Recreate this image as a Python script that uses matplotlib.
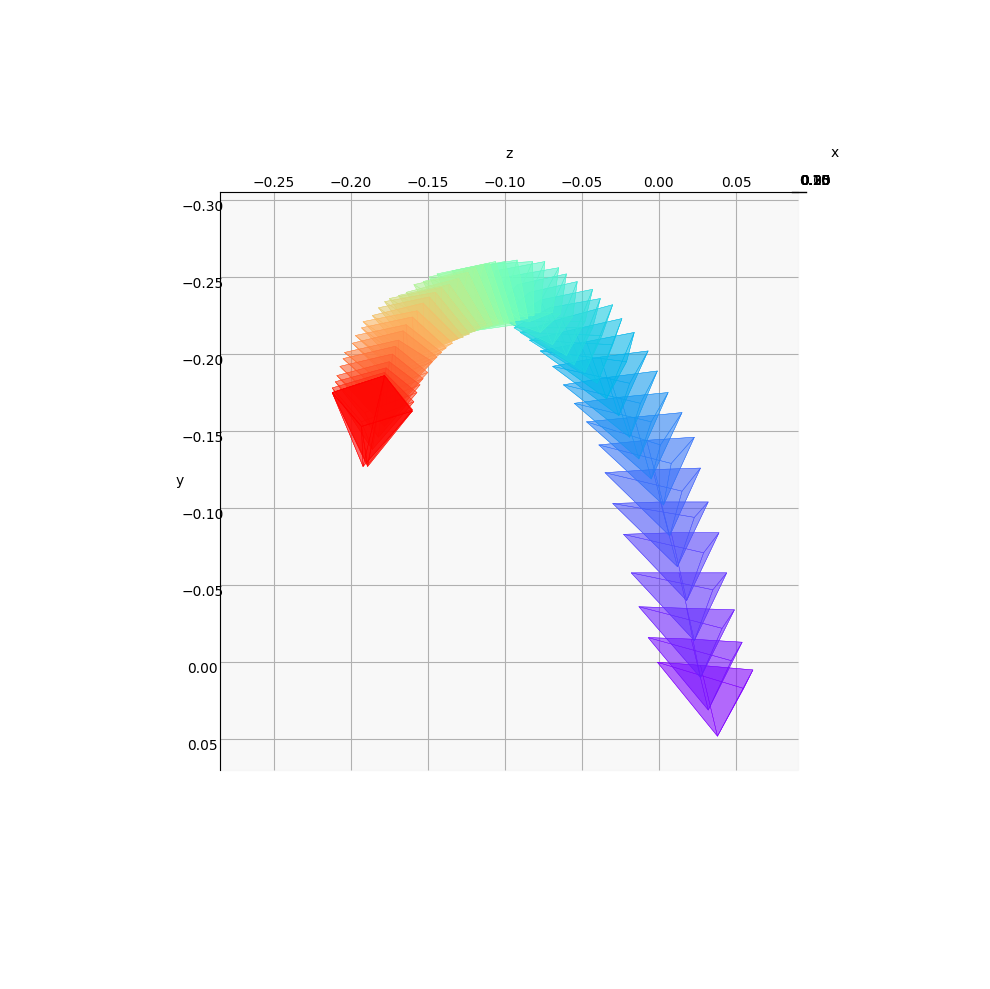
import numpy as np
import matplotlib
matplotlib.use('Agg')
import matplotlib.pyplot as plt
from matplotlib.lines import Line2D
from mpl_toolkits.mplot3d.art3d import Poly3DCollection

# camera frustums, one value per camera (z and y of apex and the 4 base corners)
apex_z = [.038,.032,.027,.023,.018,.012,.007,.003,-.005,-.013,-.019,-.026,-.034,-.040,-.048,-.055,-.060,-.069,-.077,-.084,-.089,-.095,-.100,-.105,-.110,-.116,-.121,-.125,-.130,-.134,-.138,-.141,-.145,-.149,-.152,-.155,-.158,-.162,-.165,-.168,-.171,-.175,-.178,-.182,-.186,-.189,-.189,-.192]
apex_y = [.048,.031,.010,-.014,-.040,-.062,-.082,-.102,-.119,-.132,-.146,-.160,-.171,-.181,-.188,-.193,-.199,-.206,-.214,-.221,-.226,-.230,-.233,-.234,-.235,-.234,-.233,-.231,-.228,-.225,-.222,-.217,-.212,-.207,-.201,-.195,-.190,-.184,-.178,-.172,-.166,-.160,-.153,-.146,-.138,-.128,-.127,-.127]
a_z = [-.001,-.007,-.013,-.018,-.023,-.030,-.035,-.039,-.047,-.055,-.062,-.069,-.077,-.084,-.090,-.094,-.098,-.103,-.108,-.113,-.114,-.116,-.117,-.119,-.121,-.127,-.130,-.134,-.138,-.143,-.147,-.151,-.155,-.159,-.163,-.167,-.170,-.173,-.177,-.180,-.182,-.186,-.188,-.191,-.193,-.193,-.193,-.193]
a_y = [0,-.016,-.036,-.058,-.083,-.103,-.123,-.141,-.156,-.168,-.180,-.192,-.202,-.209,-.214,-.217,-.221,-.223,-.225,-.225,-.223,-.222,-.219,-.217,-.215,-.214,-.212,-.211,-.209,-.209,-.206,-.204,-.202,-.201,-.198,-.196,-.193,-.190,-.186,-.182,-.177,-.172,-.167,-.162,-.156,-.153,-.153,-.153]
d_z = [.027,.021,.018,.013,.008,.001,-.004,-.008,-.016,-.025,-.032,-.038,-.047,-.055,-.063,-.071,-.077,-.084,-.092,-.099,-.106,-.114,-.121,-.127,-.134,-.144,-.149,-.153,-.159,-.164,-.169,-.175,-.178,-.182,-.186,-.192,-.193,-.197,-.199,-.204,-.205,-.207,-.209,-.210,-.212,-.212,-.212,-.212]
d_y = [.002,-.015,-.035,-.058,-.084,-.104,-.125,-.144,-.159,-.172,-.185,-.198,-.208,-.216,-.223,-.230,-.235,-.240,-.245,-.250,-.254,-.258,-.256,-.255,-.254,-.252,-.250,-.247,-.245,-.240,-.238,-.236,-.234,-.230,-.225,-.221,-.217,-.212,-.207,-.201,-.197,-.192,-.186,-.182,-.178,-.175,-.175,-.175]
b_z = [.061,.054,.049,.044,.039,.032,.027,.023,.015,.006,-.001,-.007,-.016,-.024,-.030,-.038,-.043,-.053,-.060,-.065,-.074,-.082,-.092,-.100,-.106,-.110,-.114,-.119,-.124,-.130,-.136,-.141,-.145,-.149,-.153,-.157,-.160,-.164,-.166,-.169,-.171,-.173,-.175,-.177,-.178,-.178,-.178,-.178]
b_y = [.005,-.013,-.034,-.058,-.084,-.104,-.126,-.146,-.162,-.175,-.189,-.202,-.214,-.223,-.232,-.236,-.242,-.247,-.252,-.256,-.260,-.260,-.261,-.260,-.260,-.259,-.258,-.256,-.253,-.249,-.245,-.243,-.240,-.237,-.233,-.228,-.224,-.219,-.215,-.209,-.205,-.200,-.195,-.191,-.188,-.186,-.186,-.186]
c_z = [.055,.047,.041,.035,.029,.023,.015,.008,.001,-.005,-.012,-.019,-.021,-.030,-.037,-.043,-.048,-.056,-.064,-.069,-.077,-.081,-.085,-.090,-.093,-.097,-.101,-.104,-.108,-.112,-.116,-.119,-.123,-.127,-.130,-.134,-.138,-.141,-.144,-.147,-.150,-.153,-.155,-.157,-.159,-.160,-.160,-.160]
c_y = [.017,-.001,-.022,-.047,-.071,-.094,-.111,-.129,-.141,-.156,-.168,-.181,-.195,-.206,-.212,-.217,-.221,-.224,-.226,-.227,-.227,-.225,-.223,-.222,-.219,-.220,-.220,-.220,-.219,-.219,-.217,-.215,-.213,-.211,-.210,-.207,-.204,-.201,-.198,-.195,-.188,-.184,-.180,-.175,-.169,-.164,-.163,-.163]

x_tick_labels = ['0.05', '0.10', '0.15', '0.20', '0.25', '0.30', '0.35']

apex_x = 0.15
base_x = 0.25

fig = plt.figure(figsize=(9.9, 9.89), dpi=100)
ax = fig.add_subplot(projection='3d')
ax.set_position([0.125 - 9 / 990, 0.11 + 8 / 989, 0.775, 0.77])
ax.set_proj_type('ortho')
ax.view_init(elev=0, azim=0, roll=-90)
ax.set_box_aspect((1, 1, 1), zoom=1.276)
ax.computed_zorder = False

ax.set_xlim(0.01, 0.385)
ax.set_ylim(-0.305, 0.07)
ax.set_zlim(-0.285, 0.09)
ax.set_ylabel('y', labelpad=-1)
ax.set_zlabel('z', labelpad=-2.1)
ax.tick_params(axis='y', pad=0.5)
ax.tick_params(axis='z', pad=0.2)

# depth axis sits in the top right corner, stacked on one spot
ax.set_xticks([])
ax.xaxis.line.set_color((0, 0, 0, 0))
for lab in x_tick_labels:
    fig.text(815 / 990, 1 - 181 / 989, lab, ha='center', va='center', fontsize=10)
fig.text(835 / 990, 1 - 153 / 989, 'x', ha='center', va='center', fontsize=10)
fig.add_artist(Line2D([792 / 990, 806 / 990], [1 - 192 / 989, 1 - 192 / 989], color='black', lw=1.0))

n = len(apex_z)
for i in range(n):
    color = plt.cm.rainbow(i / (n - 1))
    p = [apex_x, apex_y[i], apex_z[i]]
    a = [base_x, a_y[i], a_z[i]]
    d = [base_x, d_y[i], d_z[i]]
    b = [base_x, b_y[i], b_z[i]]
    c = [base_x, c_y[i], c_z[i]]
    faces = [[p, a, d], [p, d, b], [p, b, c], [p, c, a], [a, d, b, c]]
    ax.add_collection3d(Poly3DCollection(faces, facecolors=color, linewidths=0.3,
                                         edgecolors=color, alpha=0.35))

plt.savefig('out.png')
